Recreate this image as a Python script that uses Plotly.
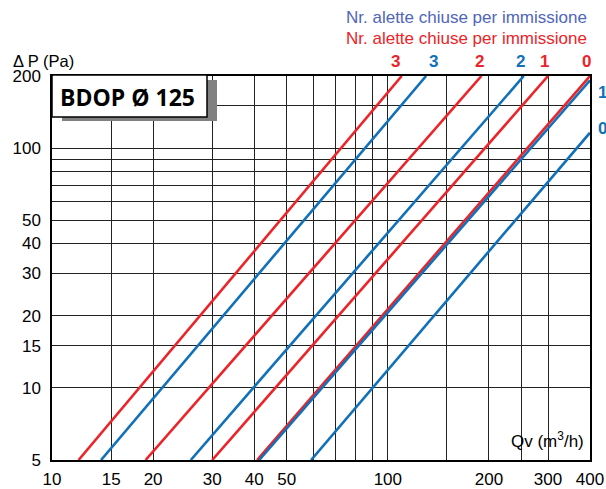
import math
import plotly.graph_objects as go

# ---- data ----
series_names = ["red 3", "blue 3", "red 2", "blue 2", "red 1", "red 0", "blue 1", "blue 0"]
series_labels = ["3", "3", "2", "2", "1", "0", "1", "0"]
series_kind = ["red", "blue", "red", "blue", "red", "red", "blue", "blue"]
# start and end points of each straight line (Qv m3/h, dP Pa)
q_start = [12.0, 14.0, 19.0, 25.9, 30.0, 40.8, 41.4, 59.1]
dp_start = [5, 5, 5, 5, 5, 5, 5, 5]
q_end = [110, 130, 190, 254, 300, 400, 400, 400]
dp_end = [200, 200, 200, 200, 200, 200, 192, 116]

x_ticks = [10, 15, 20, 30, 40, 50, 60, 70, 80, 90, 100, 150, 200, 250, 300, 400]
x_ticklabels = ["10", "15", "20", "30", "40", "50", "", "", "", "", "100", "", "200", "", "300", "400"]
y_ticks = [5, 10, 15, 20, 30, 40, 50, 60, 70, 80, 90, 100, 150, 200]
y_ticklabels = ["5", "10", "15", "20", "30", "40", "50", "", "", "", "", "100", "", "200"]

title_text = "BDOP Ø 125"
legend_blue = "Nr. alette chiuse per immissione"
legend_red = "Nr. alette chiuse per immissione"

RED = "#ec2328"
BLUE = "#1170b8"
colors = {"red": RED, "blue": BLUE}

fig = go.Figure()
for name, kind, qs, ds, qe, de in zip(series_names, series_kind, q_start, dp_start, q_end, dp_end):
    fig.add_trace(go.Scatter(x=[qs, qe], y=[ds, de], mode="lines", name=name,
                             line=dict(color=colors[kind], width=2.6), showlegend=False,
                             hoverinfo="skip"))

FONT = "Liberation Sans, Arial, sans-serif"
axis_common = dict(type="log", showgrid=True, gridcolor="#222", gridwidth=1,
                   showline=True, linecolor="black", linewidth=1.5, mirror=True,
                   ticks="", zeroline=False, automargin=False,
                   tickfont=dict(family=FONT, size=17, color="black"))

FW, FH = 606, 489
X0, X1, Y0, Y1 = 52, 590, 76, 460  # plot area in pixels
PW, PH = X1 - X0, Y1 - Y0


def px(xp):
    return (xp - X0) / PW


def py(yp):
    return (Y1 - yp) / PH


fig.update_layout(
    width=FW, height=FH,
    margin=dict(l=X0, r=FW - X1, t=Y0, b=FH - Y1),
    paper_bgcolor="white", plot_bgcolor="white",
    xaxis=dict(range=[1, math.log10(400)], tickvals=x_ticks, ticktext=x_ticklabels,
               ticklabelstandoff=3, **axis_common),
    yaxis=dict(range=[math.log10(5), math.log10(200)], tickvals=y_ticks, ticktext=y_ticklabels,
               ticklabelstandoff=6, **axis_common),
)

# title box with shadow
fig.add_shape(type="rect", xref="paper", yref="paper", x0=px(62), x1=px(217), y0=py(121), y1=py(80),
              fillcolor="#808080", line=dict(width=0), layer="above")
fig.add_shape(type="rect", xref="paper", yref="paper", x0=px(52), x1=px(207), y0=py(117), y1=py(75),
              fillcolor="white", line=dict(color="black", width=1.5), layer="above")
fig.add_annotation(text="<b>" + title_text + "</b>", xref="paper", yref="paper", x=px(127), y=py(97),
                   xanchor="center", yanchor="middle", showarrow=False,
                   font=dict(family="Open Sans, sans-serif", size=23, color="black"))

# axis titles
fig.add_annotation(text="Δ P (Pa)", xref="paper", yref="paper", x=px(11), y=py(61),
                   xanchor="left", yanchor="middle", showarrow=False,
                   font=dict(family=FONT, size=16.5, color="black"))
fig.add_annotation(text="Qv (m<sup>3</sup>/h)", xref="paper", yref="paper", x=px(586), y=py(440),
                   xanchor="right", yanchor="middle", showarrow=False,
                   font=dict(family=FONT, size=17, color="black"))

# top legend lines
fig.add_annotation(text=legend_blue, xref="paper", yref="paper", x=px(589), y=py(17),
                   xanchor="right", yanchor="middle", showarrow=False,
                   font=dict(family=FONT, size=17, color="#4f66b9"))
fig.add_annotation(text=legend_red, xref="paper", yref="paper", x=px(589), y=py(38),
                   xanchor="right", yanchor="middle", showarrow=False,
                   font=dict(family=FONT, size=17, color=RED))

# line labels
shifts = {"red 3": -6, "blue 3": 7, "red 2": -2, "blue 2": -3, "red 1": -4, "red 0": -4}
for name, lab, kind, qe, de in zip(series_names, series_labels, series_kind, q_end, dp_end):
    if de >= 200:
        fig.add_annotation(text="<b>" + lab + "</b>", x=math.log10(qe), xref="x",
                           yref="paper", y=py(61), xshift=shifts.get(name, 0),
                           xanchor="center", yanchor="middle", showarrow=False,
                           font=dict(family=FONT, size=17, color=colors[kind]))
    else:
        # label at the right of the line's end
        ypix = Y1 - (math.log10(de) - math.log10(5)) / (math.log10(200) - math.log10(5)) * PH
        fig.add_annotation(text="<b>" + lab + "</b>", xref="paper", x=px(596), xanchor="left",
                           yref="paper", y=py(ypix + (12 if de > 150 else -4)),
                           yanchor="middle", showarrow=False,
                           font=dict(family=FONT, size=17, color=colors[kind]))

fig.write_html("out.html", config={"displayModeBar": False},
               post_script="document.body.style.margin='0';document.body.style.overflow='hidden';")
